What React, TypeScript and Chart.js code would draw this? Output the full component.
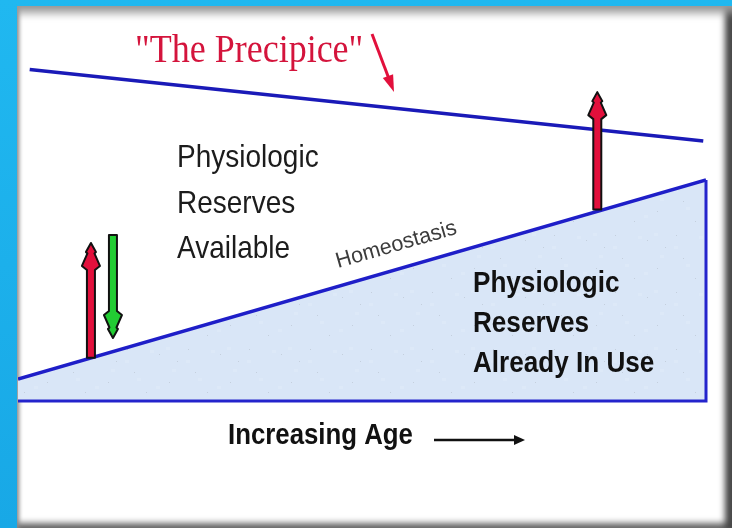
import React, { useEffect, useRef } from "react";
import { Chart, registerables } from "chart.js";

Chart.register(...registerables);

// Age axis (0 = young, 100 = old) and reserve level (0..100)
const homeoAge = [0, 100];
const homeostasis = [6.1, 61.4];
const precipiceAge = [1.7, 99.6];
const precipice = [92.1, 72.2];
const baseAge = [0, 100, 100];
const baseLevel = [0, 0, 61.4];

// stress arrows: age, from-level, to-level, colour
const arrowAge = [10.6, 13.8, 84.2];
const arrowFrom = [12.0, 46.1, 53.2];
const arrowTo = [43.9, 17.5, 85.8];
const arrowColor = ["#e2103c", "#22cc33", "#e2103c"];

const leftLabel = ["Physiologic", "Reserves", "Available"];
const rightLabel = ["Physiologic", "Reserves", "Already In Use"];
const titleLabel = '"The Precipice"';
const lineLabel = "Homeostasis";
const axisLabel = "Increasing Age";

function makePattern(): CanvasPattern | string {
  const c = document.createElement("canvas");
  c.width = 61;
  c.height = 57;
  const g = c.getContext("2d");
  if (!g) return "#dae7f7";
  g.fillStyle = "#d9e6f7";
  g.fillRect(0, 0, 61, 57);
  g.fillStyle = "#dde9f8";
  [[3, 18], [28, 8], [34, 44], [15, 36], [50, 27], [44, 5]].forEach(([x, y]) => g.fillRect(x, y, 4, 3));
  g.fillStyle = "#c4cfdd";
  [[5, 7], [37, 12], [12, 30], [47, 40], [24, 50], [55, 19]].forEach(([x, y]) => g.fillRect(x, y, 1, 1));
  const p = g.createPattern(c, "repeat");
  return p || "#dae7f7";
}

function drawText(
  ctx: CanvasRenderingContext2D,
  text: string,
  x: number,
  y: number,
  font: string,
  color: string,
  sx = 1,
  sy = 1,
  angle = 0
) {
  ctx.save();
  ctx.translate(x, y);
  if (angle) ctx.rotate(angle);
  ctx.scale(sx, sy);
  ctx.font = font;
  ctx.fillStyle = color;
  ctx.textBaseline = "alphabetic";
  ctx.textAlign = "left";
  ctx.fillText(text, 0, 0);
  ctx.restore();
}

function drawStressArrow(
  ctx: CanvasRenderingContext2D,
  x: number,
  yBase: number,
  yTip: number,
  color: string
) {
  const dir = yTip < yBase ? -1 : 1;
  const L = Math.abs(yBase - yTip);
  const pts: [number, number][] = [
    [0, 0], [5, 9], [3.5, 10.5], [9, 23], [4, 27], [4, L],
    [-4, L], [-4, 27], [-9, 23], [-3.5, 10.5], [-5, 9],
  ];
  ctx.save();
  ctx.beginPath();
  pts.forEach(([dx, d], i) => {
    const px = x + dx;
    const py = yTip - dir * d;
    if (i === 0) ctx.moveTo(px, py);
    else ctx.lineTo(px, py);
  });
  ctx.closePath();
  ctx.fillStyle = color;
  ctx.fill();
  ctx.lineWidth = 2;
  ctx.strokeStyle = "#111";
  ctx.lineJoin = "round";
  ctx.stroke();
  ctx.restore();
}

function drawPointer(
  ctx: CanvasRenderingContext2D,
  x0: number, y0: number, x1: number, y1: number,
  color: string, width: number, headLen: number, headHalf: number
) {
  const dx = x1 - x0;
  const dy = y1 - y0;
  const len = Math.hypot(dx, dy);
  const ux = dx / len;
  const uy = dy / len;
  const bx = x1 - ux * headLen;
  const by = y1 - uy * headLen;
  ctx.save();
  ctx.strokeStyle = color;
  ctx.fillStyle = color;
  ctx.lineWidth = width;
  ctx.beginPath();
  ctx.moveTo(x0, y0);
  ctx.lineTo(bx + ux * 2, by + uy * 2);
  ctx.stroke();
  ctx.beginPath();
  ctx.moveTo(x1, y1);
  ctx.lineTo(bx - uy * headHalf, by + ux * headHalf);
  ctx.lineTo(bx + uy * headHalf, by - ux * headHalf);
  ctx.closePath();
  ctx.fill();
  ctx.restore();
}

const annotations = {
  id: "precipiceAnnotations",
  afterDatasetsDraw(chart: any) {
    const ctx: CanvasRenderingContext2D = chart.ctx;
    const xs = chart.scales.x;
    const ys = chart.scales.y;

    arrowAge.forEach((a, i) => {
      drawStressArrow(
        ctx,
        xs.getPixelForValue(a),
        ys.getPixelForValue(arrowFrom[i]),
        ys.getPixelForValue(arrowTo[i]),
        arrowColor[i]
      );
    });

    drawText(ctx, titleLabel, 135, 62, "36px 'Liberation Serif', 'Times New Roman', serif", "#d4143c", 1, 1.11);
    drawPointer(ctx, 372, 34, 394, 92, "#e2103c", 3, 17, 5.5);

    const lf = "28px 'Liberation Sans', Arial, sans-serif";
    [167, 213, 258].forEach((y, i) => drawText(ctx, leftLabel[i], 177, y, lf, "#1c1c1c", 1, 1.12));

    const rf = "bold 29px 'Liberation Sans', Arial, sans-serif";
    [292, 332, 372].forEach((y, i) => drawText(ctx, rightLabel[i], 473, y, rf, "#111", 0.9, 1));

    drawText(ctx, lineLabel, 338, 268, "22px 'Liberation Sans', Arial, sans-serif", "#3c3c3c", 0.98, 1, (-16 * Math.PI) / 180);

    drawText(ctx, axisLabel, 228, 444, "bold 30px 'Liberation Sans', Arial, sans-serif", "#111", 0.86, 1);
    drawPointer(ctx, 434, 440, 525, 440, "#111", 2.5, 11, 5);
  },
};

export default function App() {
  const ref = useRef<HTMLCanvasElement | null>(null);

  useEffect(() => {
    document.body.style.margin = "0";
    if (!ref.current) return;
    const fill = makePattern();
    const chart = new Chart(ref.current, {
      type: "scatter",
      data: {
        datasets: [
          {
            label: "Homeostasis",
            data: homeoAge.map((a, i) => ({ x: a, y: homeostasis[i] })),
            showLine: true,
            borderColor: "#1e1ec8",
            borderWidth: 3.5,
            backgroundColor: fill as any,
            fill: "origin",
            pointRadius: 0,
            order: 2,
          },
          {
            label: "Baseline",
            data: baseAge.map((a, i) => ({ x: a, y: baseLevel[i] })),
            showLine: true,
            borderColor: "#2424cc",
            borderWidth: 3,
            fill: false,
            pointRadius: 0,
            clip: false,
            order: 1,
          },
          {
            label: "The Precipice",
            data: precipiceAge.map((a, i) => ({ x: a, y: precipice[i] })),
            showLine: true,
            borderColor: "#1a1ab8",
            borderWidth: 3.5,
            fill: false,
            pointRadius: 0,
            order: 0,
          },
        ],
      },
      options: {
        responsive: false,
        animation: false,
        events: [],
        layout: { padding: { left: 18, right: 26, top: 41, bottom: 127 } },
        scales: {
          x: { type: "linear", min: 0, max: 100, display: false },
          y: { type: "linear", min: 0, max: 100, display: false },
        },
        plugins: {
          legend: { display: false },
          tooltip: { enabled: false },
          title: { display: false },
        },
      },
      plugins: [annotations],
    });
    return () => chart.destroy();
  }, []);

  return (
    <div
      style={{
        position: "fixed",
        left: 0,
        top: 0,
        width: 732,
        height: 528,
        background: "linear-gradient(180deg, #20b8f0 0%, #18a8e6 100%)",
        overflow: "hidden",
      }}
    >
      <div
        style={{
          position: "absolute",
          left: 17,
          top: 6,
          width: 715,
          height: 522,
          background: "#ffffff",
          boxShadow:
            "inset 0 13px 8px -6px #9a9a9a, inset 4px 0 4px -2px #8a8a8a, inset -10px 0 6px -3px #444, inset 0 -8px 6px -3px #6a6a6a",
        }}
      />
      <canvas ref={ref} width={732} height={528} style={{ position: "absolute", left: 0, top: 0 }} />
    </div>
  );
}
